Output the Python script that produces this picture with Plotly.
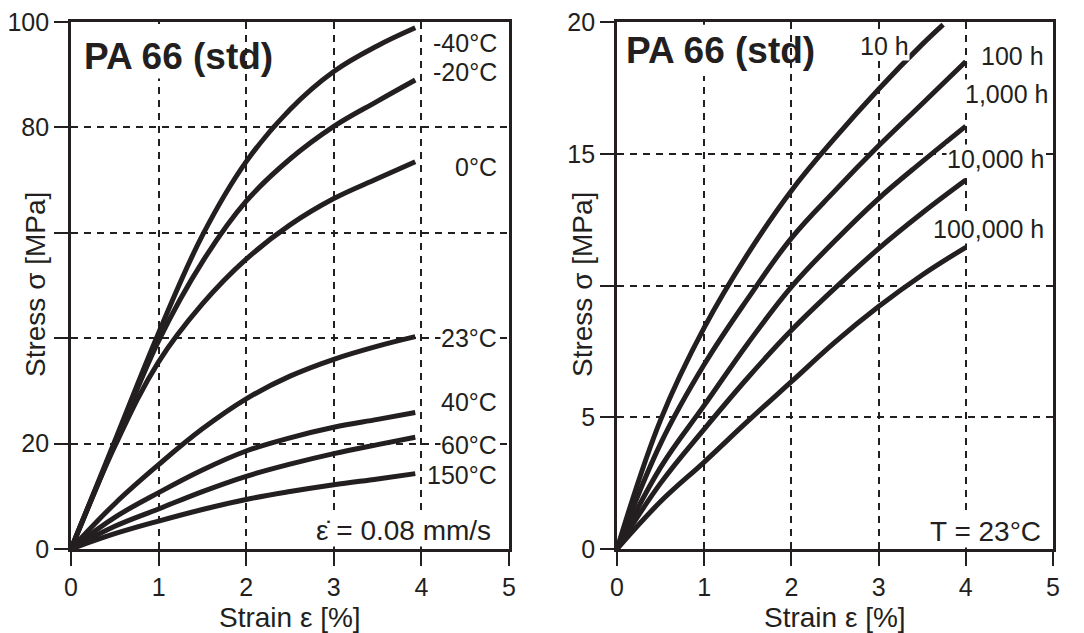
import plotly.graph_objects as go

# ---------------- data ----------------
strain_left = [0, 0.5, 1.0, 1.5, 2.0, 2.5, 3.0, 3.5, 3.93]
temp_names = ["-40°C", "-20°C", "0°C", "23°C", "40°C", "60°C", "150°C"]
stress_m40 = [0, 20.5, 41.0, 59.5, 73.5, 83.4, 90.6, 95.5, 98.9]
stress_m20 = [0, 20.0, 39.5, 54.5, 66.0, 74.0, 80.2, 85.0, 89.0]
stress_0 = [0, 19.5, 35.5, 46.5, 55.0, 61.5, 66.5, 70.3, 73.5]
stress_23 = [0, 8.6, 16.0, 22.8, 28.5, 32.8, 36.0, 38.5, 40.3]
stress_40 = [0, 6.0, 10.7, 15.0, 18.6, 21.1, 23.1, 24.6, 25.9]
stress_60 = [0, 4.3, 7.6, 10.9, 13.8, 16.1, 18.1, 19.8, 21.2]
stress_150 = [0, 2.9, 5.3, 7.5, 9.4, 10.9, 12.2, 13.3, 14.3]
left_series = [stress_m40, stress_m20, stress_0, stress_23, stress_40, stress_60, stress_150]
left_label_y = [96.0, 90.5, 72.5, 40.0, 27.9, 19.7, 14.0]

strain_right = [0, 0.5, 1.0, 1.5, 2.0, 2.5, 3.0, 3.5, 4.0]
time_names = ["10 h", "100 h", "1,000 h", "10,000 h", "100,000 h"]
strain_10h = [0, 0.5, 1.0, 1.5, 2.0, 2.5, 3.0, 3.5, 3.74]
stress_10h = [0, 4.9, 8.4, 11.2, 13.6, 15.6, 17.45, 19.15, 19.9]
stress_100h = [0, 4.0, 7.0, 9.5, 11.8, 13.6, 15.3, 16.9, 18.5]
stress_1000h = [0, 3.1, 5.45, 7.8, 9.95, 11.7, 13.3, 14.7, 16.05]
stress_10000h = [0, 2.5, 4.55, 6.5, 8.3, 9.9, 11.4, 12.75, 14.0]
stress_100000h = [0, 1.8, 3.3, 4.85, 6.35, 7.85, 9.2, 10.4, 11.45]
right_x = [strain_10h, strain_right, strain_right, strain_right, strain_right]
right_series = [stress_10h, stress_100h, stress_1000h, stress_10000h, stress_100000h]
right_label_pos = [(3.07, 19.1, "center"), (4.91, 18.7, "right"), (4.95, 17.27, "right"),
                   (4.91, 14.8, "right"), (4.91, 12.14, "right")]

left_ticks = [0, 20, 40, 60, 80, 100]
left_ticktext = ["0", "20", "", "", "80", "100"]
right_ticks = [0, 5, 10, 15, 20]
right_ticktext = ["0", "5", "", "15", "20"]
x_ticks = [0, 1, 2, 3, 4, 5]

INK = "#231f20"
FONT = "Liberation Sans, Arial, sans-serif"

fig = go.Figure()
for ys in left_series:
    fig.add_trace(go.Scatter(x=strain_left, y=ys, mode="lines", xaxis="x", yaxis="y",
                             line=dict(color=INK, width=5, shape="spline", smoothing=1.1),
                             showlegend=False, hoverinfo="skip"))
for xs, ys in zip(right_x, right_series):
    fig.add_trace(go.Scatter(x=xs, y=ys, mode="lines", xaxis="x2", yaxis="y2",
                             line=dict(color=INK, width=5, shape="spline", smoothing=1.1),
                             showlegend=False, hoverinfo="skip"))

grid = dict(showgrid=True, gridcolor=INK, gridwidth=2.2, griddash="7px,6px",
            showline=True, linecolor=INK, linewidth=2.8, mirror=True,
            ticks="outside", ticklen=14, tickwidth=2.2, tickcolor=INK, automargin=False,
            tickfont=dict(family=FONT, size=25, color=INK), zeroline=False)

ydom = [84 / 633, 611 / 633]
fig.update_layout(
    width=1084, height=633, margin=dict(l=0, r=0, t=0, b=0, autoexpand=False),
    paper_bgcolor="white", plot_bgcolor="white",
    xaxis=dict(domain=[71 / 1084, 509 / 1084], range=[0, 5], tickvals=x_ticks, anchor="y", **grid),
    yaxis=dict(domain=ydom, range=[0, 100], tickvals=left_ticks, ticktext=left_ticktext,
               anchor="x", **grid),
    xaxis2=dict(domain=[617 / 1084, 1053 / 1084], range=[0, 5], tickvals=x_ticks, anchor="y2", **grid),
    yaxis2=dict(domain=ydom, range=[0, 20], tickvals=right_ticks, ticktext=right_ticktext,
                anchor="x2", **grid),
)

# hide gridline segments under the titles
fig.add_shape(type="rect", xref="x", yref="y", x0=0.85, x1=1.15, y0=89.3, y1=99.6,
              fillcolor="white", line=dict(width=0), layer="between")
fig.add_shape(type="rect", xref="x2", yref="y2", x0=0.85, x1=1.15, y0=17.95, y1=19.9,
              fillcolor="white", line=dict(width=0), layer="between")

ann = []
lab_font = dict(family=FONT, size=25, color=INK)
for name, yv in zip(temp_names, left_label_y):
    ann.append(dict(x=4.88, y=yv, xref="x", yref="y", text=name, showarrow=False,
                    xanchor="right", yanchor="middle", font=lab_font,
                    bgcolor="white", borderpad=0))
for name, (xv, yv, anc) in zip(time_names, right_label_pos):
    ann.append(dict(x=xv, y=yv, xref="x2", yref="y2", text=name, showarrow=False,
                    xanchor=anc, yanchor="middle", font=lab_font,
                    bgcolor="white", borderpad=0))
ann.append(dict(x=4.81, y=3.6, xref="x", yref="y", text="ε\u0307 = 0.08 mm/s", showarrow=False,
                xanchor="right", yanchor="middle", font=dict(family=FONT, size=28, color=INK),
                bgcolor="white", borderpad=0))
ann.append(dict(x=4.87, y=0.68, xref="x2", yref="y2", text="T = 23°C", showarrow=False,
                xanchor="right", yanchor="middle", font=dict(family=FONT, size=28, color=INK),
                bgcolor="white", borderpad=0))
title_font = dict(family=FONT, size=37, color=INK)
ann.append(dict(x=0.125, y=93.5, xref="x", yref="y", text="<b>PA 66 (std)</b>", showarrow=False,
                xanchor="left", yanchor="middle", font=title_font))
ann.append(dict(x=0.08, y=18.9, xref="x2", yref="y2", text="<b>PA 66 (std)</b>", showarrow=False,
                xanchor="left", yanchor="middle", font=title_font))
axis_font = dict(family=FONT, size=28, color=INK)
ann.append(dict(x=35 / 1084, y=1 - 285 / 633, xref="paper", yref="paper", text="Stress σ [MPa]",
                textangle=-90, showarrow=False, xanchor="center", yanchor="middle", font=axis_font))
ann.append(dict(x=582 / 1084, y=1 - 285 / 633, xref="paper", yref="paper", text="Stress σ [MPa]",
                textangle=-90, showarrow=False, xanchor="center", yanchor="middle", font=axis_font))
ann.append(dict(x=290 / 1084, y=1 - 617 / 633, xref="paper", yref="paper", text="Strain ε [%]",
                showarrow=False, xanchor="center", yanchor="middle", font=axis_font))
ann.append(dict(x=835 / 1084, y=1 - 617 / 633, xref="paper", yref="paper", text="Strain ε [%]",
                showarrow=False, xanchor="center", yanchor="middle", font=axis_font))
fig.update_layout(annotations=ann)

fig.write_html("out.html")
